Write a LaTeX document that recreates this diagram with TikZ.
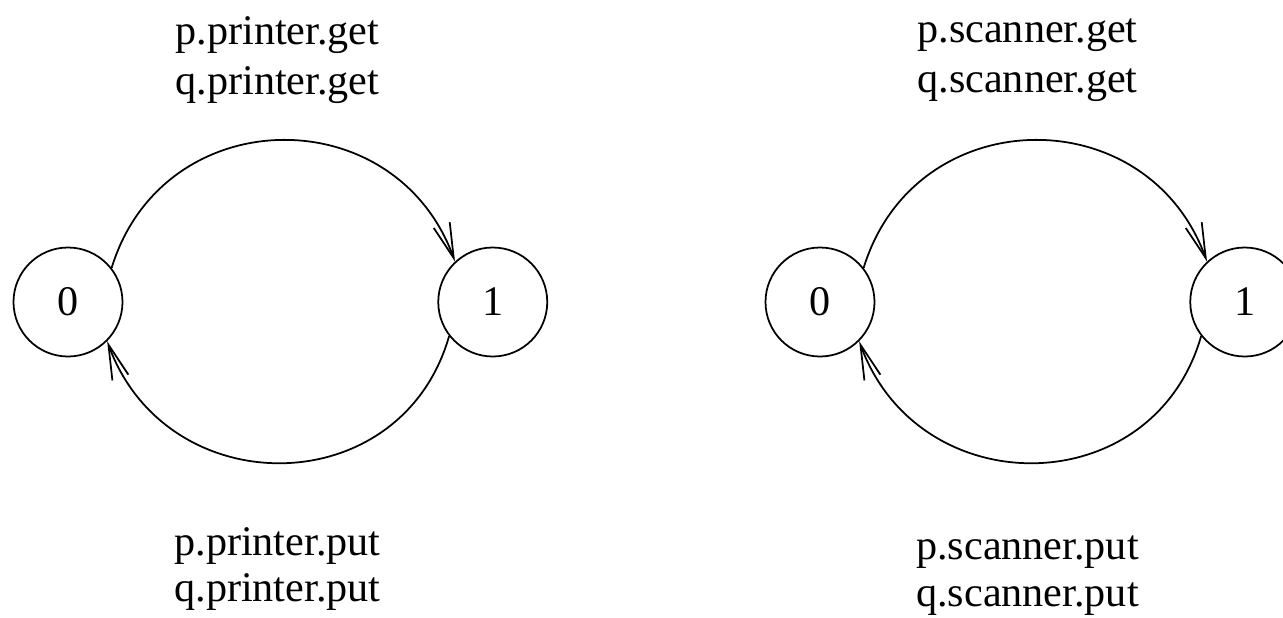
\documentclass[tikz,border=0pt]{standalone}
\usepackage{fontspec}
\setmainfont{Liberation Serif}
\usepackage{tikz}
\usetikzlibrary{arrows.meta,positioning}

\begin{document}
\begin{tikzpicture}[
        state/.style={draw, circle, line width=1pt, minimum size=2.18cm,
                      inner sep=0pt, font=\fontsize{24}{28.5}\selectfont},
        getlabel/.style={align=center, font=\fontsize{24}{28.5}\selectfont},
        putlabel/.style={align=center, font=\fontsize{24}{26.7}\selectfont},
        arr/.style={-{Straight Barb[length=7mm,width=3.4mm]}, line width=1pt, looseness=1.3}
      ]
        \useasboundingbox (0,0) rectangle (25.66,-12.34);

        % printer
        \node[state] (p0) at (1.36,-6.04) {0};
        \node[state, right=6.28cm of p0] (p1) {1};
        \node[getlabel] (pget) at (5.55,-1.2) {p.printer.get\\q.printer.get};
        \node[putlabel] (pput) at (5.55,-11.38) {p.printer.put\\q.printer.put};

        \draw[arr] (p0.38) to[out=73, in=110] (p1.133);
        \draw[arr] (p1.218) to[out=-106, in=-70] (p0.-45);

        % scanner
        \node[state] (s0) at (16.4,-6.04) {0};
        \node[state, right=6.28cm of s0] (s1) {1};
        \node[getlabel] (sget) at (20.55,-1.2) {p.scanner.get\\q.scanner.get};
        \node[putlabel] (sput) at (20.55,-11.52) {p.scanner.put\\q.scanner.put};

        \draw[arr] (s0.38) to[out=73, in=110] (s1.133);
        \draw[arr] (s1.218) to[out=-106, in=-70] (s0.-45);
      \end{tikzpicture}
\end{document}
